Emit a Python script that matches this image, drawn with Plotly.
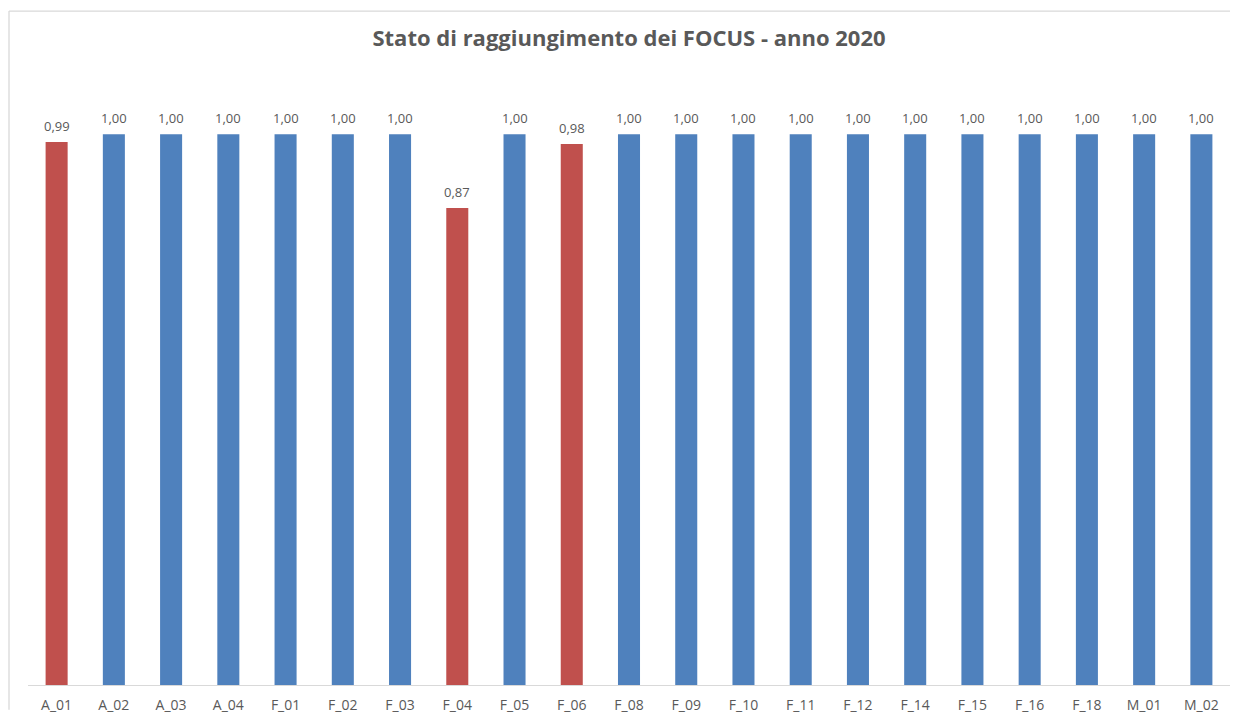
import plotly.graph_objects as go

categories = ["A_01", "A_02", "A_03", "A_04", "F_01", "F_02", "F_03", "F_04", "F_05", "F_06",
              "F_08", "F_09", "F_10", "F_11", "F_12", "F_14", "F_15", "F_16", "F_18", "M_01", "M_02"]
values = [0.986, 1.0, 1.0, 1.0, 1.0, 1.0, 1.0, 0.866, 1.0, 0.982,
          1.0, 1.0, 1.0, 1.0, 1.0, 1.0, 1.0, 1.0, 1.0, 1.0, 1.0]
BLUE = "#4F81BD"
RED = "#C0504D"
colors = [RED if v < 0.995 else BLUE for v in values]

# page body has an 8px margin: figure is sized to fit the window without scrollbars
OFF = 8
W, H = 1238 - 2 * OFF, 722 - 2 * OFF
L = 28 - OFF
R = W - (1230 - OFF)
T = 24 - OFF
B = H - (689 - OFF)

fig = go.Figure()
fig.add_trace(go.Bar(
    x=categories, y=values, marker=dict(color=colors, line=dict(width=0)),
    width=0.385, hoverinfo="x+y",
))

for c, v in zip(categories, values):
    fig.add_annotation(x=c, y=v, text=f"{v:.2f}".replace(".", ","), showarrow=False,
                       yanchor="bottom", yshift=5,
                       font=dict(family="Open Sans, sans-serif", size=13, color="#595959"))

pw = W - L - R
ph = H - T - B
def px_x(p):
    return (p - OFF - L) / pw
def px_y(p):
    return (H - B - (p - OFF)) / ph

border = dict(color="#D9D9D9", width=1.3)
fig.add_shape(type="line", xref="paper", yref="paper",
              x0=px_x(9), x1=1 + R / pw, y0=px_y(11), y1=px_y(11), line=border, layer="below")
fig.add_shape(type="line", xref="paper", yref="paper",
              x0=px_x(9), x1=px_x(9), y0=px_y(11), y1=-B / ph, line=border, layer="below")

fig.update_layout(
    width=W, height=H,
    margin=dict(l=L, r=R, t=T, b=B),
    paper_bgcolor="white", plot_bgcolor="white",
    showlegend=False,
    bargap=0.615,
    title=dict(text="<b>Stato di raggiungimento dei FOCUS - anno 2020</b>",
               x=(629 - OFF) / W, xanchor="center", y=1 - (38 - OFF) / H, yanchor="middle",
               font=dict(family="Open Sans, sans-serif", size=22, color="#595959")),
    xaxis=dict(showline=True, linecolor="#D9D9D9", linewidth=1, showgrid=False,
               ticks="", tickfont=dict(family="Open Sans, sans-serif", size=14, color="#595959"),
               ticklabelstandoff=7),
    yaxis=dict(range=[0, 1.2], visible=False, showgrid=False),
)

fig.write_html("out.html")
